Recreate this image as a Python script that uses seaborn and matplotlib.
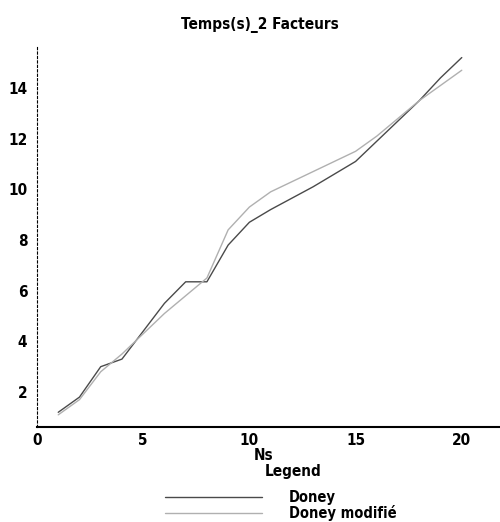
import pandas as pd
import seaborn as sns
import matplotlib.pyplot as plt
from matplotlib.ticker import MultipleLocator

# Temps(s) en fonction de Ns
ns = list(range(1, 21))
doney = [1.2, 1.8, 3.0, 3.3, 4.4, 5.5, 6.35, 6.35, 7.8, 8.7,
         9.2, 9.65, 10.1, 10.6, 11.1, 11.9, 12.7, 13.5, 14.4, 15.2]
doney_mod = [1.1, 1.7, 2.8, 3.5, 4.3, 5.1, 5.8, 6.5, 8.4, 9.3,
             9.9, 10.3, 10.7, 11.1, 11.5, 12.1, 12.8, 13.5, 14.1, 14.7]
series = ['Doney', 'Doney modifié']
colors = ['#4a4a4a', '#b0b0b0']

df = pd.DataFrame({
    'Ns': ns * 2,
    'Temps': doney + doney_mod,
    'serie': [series[0]] * len(ns) + [series[1]] * len(ns),
})

sns.set_style('white')
plt.rcParams['font.family'] = ['DejaVu Sans']
plt.rcParams['font.stretch'] = 'condensed'
plt.rcParams['font.weight'] = 'bold'
plt.rcParams['text.color'] = 'black'
plt.rcParams['axes.labelcolor'] = 'black'
plt.rcParams['xtick.color'] = 'black'
plt.rcParams['ytick.color'] = 'black'

fig = plt.figure(figsize=(5, 5.22), dpi=100)
ax = fig.add_axes([0.074, 0.182, 0.926, 0.732])

sns.lineplot(data=df, x='Ns', y='Temps', hue='serie', palette=colors,
             linewidth=1.0, legend=False, ax=ax)

ax.set_xlim(0, 21.8)
ax.set_ylim(0.62, 15.7)
ax.xaxis.set_major_locator(MultipleLocator(5))
ax.xaxis.set_minor_locator(MultipleLocator(1))
ax.yaxis.set_major_locator(MultipleLocator(2))
ax.yaxis.set_minor_locator(MultipleLocator(0.5))
ax.tick_params(which='major', length=5, width=1, labelsize=11, pad=2)
ax.tick_params(which='minor', length=3, width=0.8)
ax.tick_params(axis='x', which='both', direction='inout')
for s in ['top', 'right']:
    ax.spines[s].set_visible(False)
ax.spines['left'].set_linestyle((0, (2, 2)))
ax.spines['left'].set_linewidth(0.8)
ax.spines['left'].set_color('black')
ax.spines['bottom'].set_linewidth(1.5)
ax.spines['bottom'].set_color('black')

ax.set_xlabel('Ns', fontsize=11, fontweight='bold', color='black')
ax.xaxis.set_label_coords(0.49, -0.055)
ax.set_ylabel('')
fig.text(0.52, 0.952, 'Temps(s)_2 Facteurs', ha='center', va='center', fontsize=11)

leg = ax.legend(ax.get_lines(), series, frameon=False,
                loc='upper left', bbox_to_anchor=(0.316, 0.076),
                bbox_transform=fig.transFigure, handlelength=6.6,
                handletextpad=1.9, labelspacing=0.0, borderpad=0,
                fontsize=10.5)
fig.text(0.53, 0.096, 'Legend', ha='left', va='center', fontsize=11)

fig.savefig('out.png', dpi=100)
